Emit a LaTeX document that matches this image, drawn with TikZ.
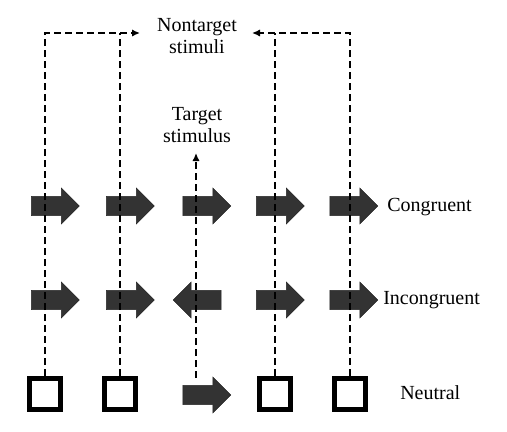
\documentclass[tikz,border=0pt]{standalone}
\usepackage{fontspec}
\setmainfont{Liberation Serif}
\usetikzlibrary{positioning,shapes.arrows,arrows.meta}
\tikzset{
  blockarr/.style = {single arrow, fill=black!80, draw=black!85, line width=0.4pt,
                     minimum height=36pt, single arrow head extend=6.2pt,
                     single arrow head indent=0pt, inner xsep=0pt, inner ysep=7pt},
  leftarr/.style  = {blockarr, shape border rotate=180},
  sq/.style       = {draw=black, fill=white, line width=3.75pt, minimum size=23.25pt, inner sep=0pt},
  lbl/.style      = {font=\fontsize{15pt}{17pt}\selectfont, anchor=west, inner sep=0pt},
  hdr/.style      = {font=\fontsize{15pt}{16pt}\selectfont, align=center, inner sep=0pt},
  dline/.style    = {black, line width=1.5pt, dash pattern=on 5.25pt off 3pt},
  tip/.style      = {dline, -{Latex[length=6pt,width=5.5pt]}},
}

\begin{document}
\begin{tikzpicture}[x=0.75pt,y=-0.75pt]
  \useasboundingbox (0,0) rectangle (507,432);

  % labels on top
  \node[hdr] (nontarget) at (197,36) {Nontarget\\stimuli};
  \node[hdr] (target) at (197,125) {Target\\stimulus};

  % congruent and incongruent rows
  \foreach \x [count=\i] in {50.5,125.5,202,275.5,349} {
    \node[blockarr] (c\i) at (\x,206) {};
  }
  \foreach \x [count=\i] in {50.5,125.5,275.5,349} {
    \node[blockarr] (ic\i) at (\x,300) {};
  }
  \node[leftarr] (ictarget) at (202,300) {};

  % neutral row
  \node[sq] (n1) at (45,394) {};
  \node[sq] (n2) at (119.5,394) {};
  \node[blockarr] (ntarget) at (202,395) {};
  \node[sq] (n4) at (275,394) {};
  \node[sq] (n5) at (349.5,394) {};

  % row names
  \node[lbl] (cong) at (387,207) {Congruent};
  \node[lbl] (incong) at (383,300) {Incongruent};
  \node[lbl] (neutral) at (400,393) {Neutral};

  % flanker lines
  \coordinate (ltip) at (140,33);
  \coordinate (rtip) at (252,33);
  \coordinate (tbase) at (196,378);
  \coordinate (ttip) at (196,153);
  \draw[tip] (n1.north) |- (ltip);
  \draw[dline] (n2.north) -- (n2.north |- ltip);
  \draw[tip] (n5.north) |- (rtip);
  \draw[dline] (n4.north) -- (n4.north |- rtip);
  \draw[tip] (tbase) -- (ttip);
\end{tikzpicture}
\end{document}
